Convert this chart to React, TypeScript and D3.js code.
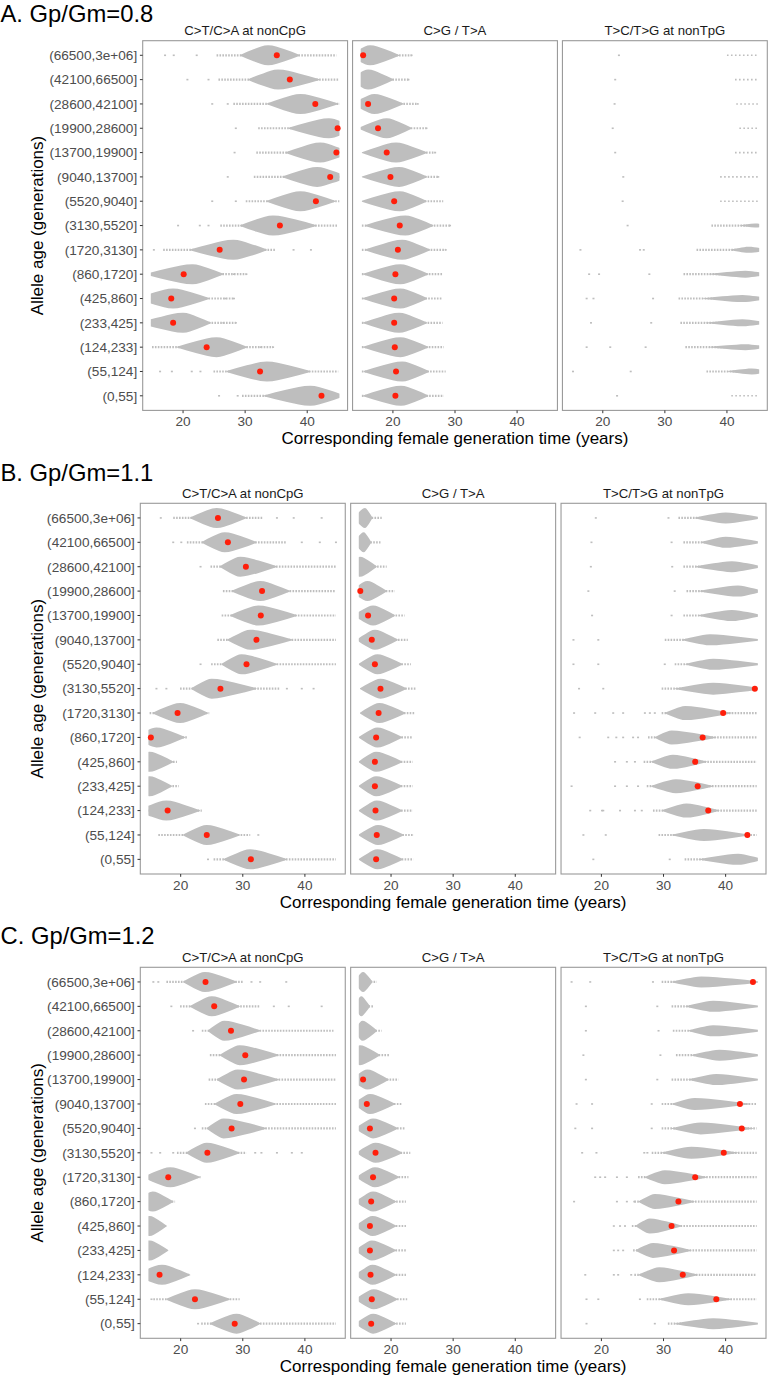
import React from "react";
import * as d3 from "d3";

// ---------------- DATA ----------------
const CATEGORIES = [
  "(66500,3e+06]", "(42100,66500]", "(28600,42100]", "(19900,28600]", "(13700,19900]",
  "(9040,13700]", "(5520,9040]", "(3130,5520]", "(1720,3130]", "(860,1720]",
  "(425,860]", "(233,425]", "(124,233]", "(55,124]", "(0,55]",
];
const FACETS = ["C>T/C>A at nonCpG", "C>G / T>A", "T>C/T>G at nonTpG"];
const PANEL_TITLES = ["A. Gp/Gm=0.8", "B. Gp/Gm=1.1", "C. Gp/Gm=1.2"];
const X_TICKS = [20, 30, 40];
const X_DOMAIN: [number, number] = [13.5, 46.5];
const DATA_RANGE: [number, number] = [15, 45];
const X_TITLE = "Corresponding female generation time (years)";
const Y_TITLE = "Allele age (generations)";

// cloud rows: [tail start, core start, mode, core end, tail end, relative density]
// red point estimates (null = outside the plotted range)
// isolated bootstrap values outside the main cloud

// ---- Panel A (Gp/Gm = 0.8)
const A1_EST = [35.1, 37.2, 41.3, 44.9, 44.7, 43.7, 41.4, 35.6, 25.9, 20.1, 18.1, 18.4, 23.8, 32.4, 42.3];
const A1_CLOUD = [
  [25.4, 29.2, 33.7, 38.8, 44.7, 1], [25.7, 30.5, 35.3, 42, 45, 1], [28.1, 33.5, 38.9, 45, 46, 1],
  [32.1, 37, 43.5, 48, 48, 1], [31.8, 36.5, 42.1, 47, 47, 1], [31.4, 36, 41.6, 46.5, 47, 1],
  [30.1, 33.5, 38.9, 44.5, 46, 1], [26, 29.2, 34.5, 41.5, 45, 1], [16.8, 21.1, 28.1, 33.5, 35, 1],
  [13, 14, 21.5, 26.5, 30.2, 1], [12, 12.5, 18.4, 24.2, 28.2, 1], [12, 13, 20, 24.5, 28.5, 1],
  [15, 19, 25.4, 30.3, 34.5, 1], [24.9, 27, 33.5, 40.5, 45, 1], [29.5, 33, 40.5, 46, 46, 1],
];
const A1_OUT = [
  [17.1, 18.5, 22.2], [20.7, 24.1], [24.7, 27.2], [28.5], [28.3], [27.2], [24.7, 28.5],
  [19.2, 22.7, 24.1], [15.3, 37.8, 40.6], [28.2, 30.2], [26.8, 28.2], [26.5, 28.5], [32.5, 34.5],
  [16.3, 18.2, 21.4, 22.8], [25.8, 28.8],
];
const A2_EST = [15.2, null, 16.0, 17.6, 19.0, 19.6, 20.2, 21.1, 20.8, 20.4, 20.2, 20.2, 20.3, 20.5, 20.4];
const A2_CLOUD = [
  [15, 13, 16.3, 21, 23, 1], [15, 13, 16, 20.1, 22.5, 1], [15, 13.5, 17, 21.7, 23.8, 1],
  [15, 14.5, 19, 23, 25.4, 1], [15, 15, 20.5, 25.5, 26.8, 1], [15, 15, 21, 25.5, 27.3, 1],
  [15, 15, 21.1, 25.4, 28.1, 1], [15, 15.5, 22, 26.5, 29.2, 1], [15, 15.5, 21.5, 26, 28.5, 1],
  [15, 15.2, 21.2, 25.7, 28, 1], [15, 15.2, 21.2, 25.5, 28, 1], [15, 15.2, 21, 25.5, 28, 1],
  [15, 15.2, 21.2, 25.7, 28.2, 1], [15, 15.3, 21.5, 25.8, 28.5, 1], [15, 15.2, 21.3, 25.7, 28.2, 1],
];
const A2_OUT = [[23], [22.5], [24], [25.4], [26.8], [27.3], [], [29.2], [28.5], [], [], [], [], [], []];
const A3_EST = [null, null, null, null, null, null, null, null, null, null, null, null, null, null, null];
const A3_CLOUD = [
  [40, 45, 45, 45, 45, 0], [41.3, 45, 45, 45, 45, 0], [41.5, 45, 45, 45, 45, 0],
  [42, 45, 45, 45, 45, 0], [41.3, 45, 45, 45, 45, 0], [38.9, 45, 45, 45, 45, 0],
  [38.9, 45, 45, 45, 45, 0], [37.5, 42, 44.5, 47, 45, 0.2], [35.1, 40.5, 43.5, 47, 45, 0.3],
  [33, 37, 43, 47, 45, 0.35], [32.2, 36, 42.5, 47, 45, 0.35], [32.5, 36.5, 42.5, 47, 45, 0.35],
  [33.3, 37, 43, 47, 45, 0.3], [36.7, 40, 44, 47, 45, 0.3], [40.7, 45, 45, 45, 45, 0],
];
const A3_OUT = [
  [22.6], [22.0], [21.9], [21.6], [22.0], [23.3], [23.2], [24.0], [16.4, 26, 26.6],
  [17.8, 19.4, 27.5], [17.4, 18.5, 28.1], [18.1, 27.8], [17.4, 21.2, 26.9], [15.2, 24.5], [22.3],
];

// ---- Panel B (Gp/Gm = 1.1)
const B1_EST = [26.0, 27.6, 30.5, 33.1, 32.9, 32.2, 30.6, 26.4, 19.5, 15.2, null, null, 17.9, 24.2, 31.3];
const B1_CLOUD = [
  [18.8, 21.5, 25.8, 30.6, 33.3, 1], [21, 23.4, 27.1, 32.2, 37.1, 1], [24.8, 26.3, 29.6, 35.5, 45, 1],
  [26.8, 28.2, 32.8, 37.6, 45, 1], [26.6, 28, 32.5, 38.7, 45, 1], [25.9, 27.5, 31.2, 38, 45, 1],
  [24.9, 26.6, 29.8, 35.5, 45, 1], [19.9, 21.7, 25, 32.2, 36, 1], [15, 15.5, 19.9, 24.4, 24.6, 1],
  [12, 12.5, 16.1, 20.7, 21, 1], [12, 12, 15, 18.8, 19.4, 1], [12, 12, 15, 18.6, 19.7, 1],
  [12, 13, 17.7, 23.1, 23.4, 1], [16.4, 20.4, 24.2, 29.5, 31.2, 1], [25.3, 26.9, 31.2, 37.1, 45, 1],
];
const B1_OUT = [
  [16.8, 35.5, 38.2, 42.7], [18.8, 20.1, 39.5, 42.4, 45], [23.2], [], [], [], [23.2],
  [16.1, 17.7, 37.1, 39.5, 41.4], [], [], [], [], [], [32.5], [24.4],
];
const B2_EST = [null, null, null, 15.05, 16.3, 16.9, 17.4, 18.3, 18.0, 17.6, 17.4, 17.4, 17.5, 17.7, 17.6];
const B2_CLOUD = [
  [15, 14, 15.8, 17, 18.5, 1], [15, 14, 15.6, 16.8, 18.3, 1], [15, 13, 15, 17.7, 19.3, 1],
  [15, 13.5, 16.2, 19.3, 20.6, 1], [15, 14, 17.1, 20.6, 22.2, 1], [15, 14.5, 17.4, 21.1, 22.7, 1],
  [15, 14.8, 17.8, 21.8, 23.2, 1], [15, 15, 18.3, 22.5, 24.1, 1], [15, 15, 18.1, 22.3, 23.8, 1],
  [15, 14.8, 17.8, 21.8, 23.5, 1], [15, 14.8, 17.6, 21.8, 23.5, 1], [15, 14.8, 17.6, 21.8, 23.5, 1],
  [15, 14.8, 17.7, 21.8, 23.5, 1], [15, 14.8, 17.9, 22, 23.7, 1], [15, 14.8, 17.8, 21.9, 23.6, 1],
];
const B2_OUT = [[], [], [], [], [], [], [], [], [], [], [], [], [], [], []];
const B3_EST = [null, null, null, null, null, null, null, 44.7, 39.6, 36.3, 35.1, 35.5, 37.2, 43.5, null];
const B3_CLOUD = [
  [32.4, 35, 40, 46, 45, 0.55], [33.2, 36, 40, 46, 45, 0.55], [33.2, 35.1, 41, 46, 45, 0.55],
  [33.7, 35.6, 42, 46, 45, 0.55], [33.2, 35.6, 41, 46, 45, 0.55], [30.2, 32.9, 37.5, 46, 45, 0.55],
  [31.8, 33.5, 38, 46, 45, 0.55], [29.7, 31.8, 38, 46, 45, 0.6], [29.7, 30.2, 33.5, 41, 45, 0.7],
  [27.5, 28.6, 31.3, 38.5, 45, 0.7], [26.8, 28, 31.5, 37, 45, 0.7], [27.3, 28, 32, 38, 45, 0.7],
  [28.3, 29.7, 33.7, 39, 45, 0.7], [29.2, 31.3, 36.5, 44, 45, 0.6], [33.4, 35.6, 42, 46, 45, 0.55],
];
const B3_OUT = [
  [19.1, 30.8], [18.4, 31.3], [18.3, 31.4], [17.9, 31.8], [18.5, 31.3], [15.5, 19.5], [15.5, 19.5, 30.2],
  [16.4, 20.3], [15.6, 19, 21.9, 23.5, 27, 27.8, 28.6], [16.5, 21.1, 22.4, 23.5, 25.1, 25.9],
  [22.2, 24.1, 25.4], [15.2, 22.2, 24.1, 25.9], [18.2, 20.1, 20.3, 23, 25.4, 26.5], [17.1, 20.7], [18.7, 31],
];

// ---- Panel C (Gp/Gm = 1.2)
const C1_EST = [24.0, 25.4, 28.1, 30.4, 30.2, 29.6, 28.2, 24.3, 18.0, null, null, null, 16.6, 22.3, 28.7];
const C1_CLOUD = [
  [17.7, 20.4, 23.9, 29, 30.1, 1], [19.9, 21.5, 25, 29.5, 32.8, 1], [23.4, 24.4, 27, 32.8, 44.6, 1],
  [24.7, 26.3, 29.5, 35.8, 45, 1], [24.5, 25.8, 29.2, 35.8, 45, 1], [23.9, 25.5, 29, 35.3, 45, 1],
  [23.4, 24.2, 26.9, 33.8, 45, 1], [19.4, 20.9, 24.2, 29.5, 30.6, 1], [13, 14, 18.3, 23.1, 23.2, 1],
  [12, 12.5, 15.5, 18.8, 19.1, 1], [12, 12, 15, 17.7, 17.8, 1], [12, 12, 15, 18, 18, 1],
  [12, 12.5, 17, 21.5, 21.6, 1], [15.6, 17.7, 22.3, 27.9, 29.5, 1], [23.3, 24.7, 29, 32.8, 45, 1],
];
const C1_OUT = [
  [15.6, 16.4, 31.4, 32.8, 37], [18.5, 35, 37.4, 42.7], [22], [], [], [], [22.3],
  [15.3, 16.7, 18.8, 32, 33, 35.5, 37.9, 39.5], [], [], [], [], [], [15.3], [22.8],
];
const C2_EST = [null, null, null, null, 15.5, 16.1, 16.6, 17.5, 17.1, 16.8, 16.6, 16.6, 16.7, 16.9, 16.8];
const C2_CLOUD = [
  [15, 14, 15.5, 17, 17.7, 1], [15, 14, 15.2, 16.6, 17.2, 1], [15, 14, 15.4, 17.7, 18.5, 1],
  [15, 13, 15, 18.2, 19.8, 1], [15, 13.5, 16.2, 19.6, 21.2, 1], [15, 14, 16.6, 20.6, 21.8, 1],
  [15, 14.3, 17.1, 21.1, 22.3, 1], [15, 14.5, 17.5, 21.8, 23.1, 1], [15, 14.5, 17.4, 21.3, 22.8, 1],
  [15, 14.3, 17.1, 20.8, 22.4, 1], [15, 14.3, 17, 20.8, 22.4, 1], [15, 14.3, 16.9, 20.8, 22.4, 1],
  [15, 14.3, 17, 20.8, 22.4, 1], [15, 14.3, 17.2, 21, 22.6, 1], [15, 14.3, 17.1, 20.8, 22.4, 1],
];
const C2_OUT = [[], [], [], [], [], [], [], [], [], [], [], [], [], [], []];
const C3_EST = [44.4, null, null, null, null, 42.3, 42.6, 39.7, 35.1, 32.4, 31.3, 31.7, 33.1, 38.5, null];
const C3_CLOUD = [
  [29.7, 31.3, 36.1, 46, 45, 0.55], [31.3, 33.5, 38, 46, 45, 0.55], [31.5, 34, 38, 46, 45, 0.55],
  [32, 34.5, 39, 46, 45, 0.55], [31.3, 34, 38.5, 46, 45, 0.55], [29.7, 31.3, 35, 44, 45, 0.6],
  [29.7, 31.3, 36, 44.5, 45, 0.6], [28.1, 29.7, 34.5, 42, 45, 0.6], [25.9, 27, 30.2, 37, 45, 0.7],
  [25.3, 26, 28.6, 35, 45, 0.75], [24.9, 25.5, 27.8, 33, 45, 0.75], [25.1, 25.5, 28.3, 34.5, 45, 0.75],
  [25.3, 26, 29.3, 35.5, 45, 0.75], [27.3, 29.2, 34, 41, 45, 0.6], [30.7, 31.8, 38, 46, 45, 0.55],
];
const C3_OUT = [
  [15.2, 18.2, 28.3], [17.5, 29], [17.5, 29.2], [17.1, 29.5], [17.5, 29], [16, 18.5, 28.1],
  [15.8, 18.5, 28.1], [16.9, 19.2, 26.9, 27.4], [19, 19.8, 20.6, 22.5, 24.1], [15.6, 22.5, 24.1, 25.3],
  [22, 23, 23.8], [22, 22.7, 23.5], [17.4, 22, 22.7, 24.8], [17.6, 19.5, 26.2], [17.6, 28.6],
];

const PANELS = [
  { title: PANEL_TITLES[0], facets: [
    { est: A1_EST, cloud: A1_CLOUD, out: A1_OUT }, { est: A2_EST, cloud: A2_CLOUD, out: A2_OUT }, { est: A3_EST, cloud: A3_CLOUD, out: A3_OUT } ] },
  { title: PANEL_TITLES[1], facets: [
    { est: B1_EST, cloud: B1_CLOUD, out: B1_OUT }, { est: B2_EST, cloud: B2_CLOUD, out: B2_OUT }, { est: B3_EST, cloud: B3_CLOUD, out: B3_OUT } ] },
  { title: PANEL_TITLES[2], facets: [
    { est: C1_EST, cloud: C1_CLOUD, out: C1_OUT }, { est: C2_EST, cloud: C2_CLOUD, out: C2_OUT }, { est: C3_EST, cloud: C3_CLOUD, out: C3_OUT } ] },
];

// ---------------- LAYOUT / STYLE ----------------
const W = 769;
const H = 1375;
const FONT = "'Liberation Sans', Arial, Helvetica, sans-serif";
const LAYOUT = [
  { left: 142.7, right: 767.3, top: 40.7, bottom: 410.4, titleY: 21.5, gap: 5.0 },
  { left: 140.3, right: 766.0, top: 503.3, bottom: 874.0, titleY: 481, gap: 5.4 },
  { left: 140.3, right: 766.0, top: 967.3, bottom: 1338.3, titleY: 944, gap: 5.4 },
];
const CLOUD_COLOR = "#bebebe";
const RED = "#ff1e0a";
const MAX_HALF = 10;

const area = d3.area<[number, number]>().curve(d3.curveMonotoneX);

function FacetView({ pi, fi, facet, fx, fw, top, bottom }: any) {
  const x = d3.scaleLinear().domain(X_DOMAIN).range([fx, fx + fw]);
  const y = d3.scalePoint<string>().domain(CATEGORIES).range([top, bottom]).padding(0.6);
  const clipId = `clip-${pi}-${fi}`;
  const cx0 = x(DATA_RANGE[0]) - 1.2;
  const cx1 = x(DATA_RANGE[1]) + 1.2;
  return (
    <g>
      <defs>
        <clipPath id={clipId}>
          <rect x={cx0} y={top} width={cx1 - cx0} height={bottom - top} />
        </clipPath>
      </defs>
      <g clipPath={`url(#${clipId})`}>
        {CATEGORIES.map((cat, i) => {
          const yc = y(cat) as number;
          const [lo, c0, m, c1, hi, dens] = facet.cloud[i];
          const half = MAX_HALF * dens;
          const pts: [number, number][] = [
            [c0, 0.04], [c0 + (m - c0) * 0.5, 0.62], [m, 1], [m + (c1 - m) * 0.5, 0.62], [c1, 0.04],
          ];
          const gen = area
            .x((d) => x(d[0]))
            .y0((d) => yc - d[1] * half)
            .y1((d) => yc + d[1] * half);
          const pathD = dens > 0 && c1 > c0 ? gen(pts) : null;
          const tails: [number, number][] = [];
          if (dens === 0) tails.push([lo, hi]);
          else {
            if (lo < c0) tails.push([lo, (c0 + m) / 2]);
            if (hi > c1) tails.push([(m + c1) / 2, hi]);
          }
          return (
            <g key={cat}>
              {tails.map((t, k) => (
                <line key={k} x1={x(t[0])} x2={x(t[1])} y1={yc} y2={yc}
                  stroke={CLOUD_COLOR} strokeWidth={dens === 0 ? 1.6 : 2.2}
                  strokeDasharray={dens === 0 ? "1.6 2.4" : "1.6 1.3"} />
              ))}
              {pathD && <path d={pathD} fill={CLOUD_COLOR} />}
              {facet.out[i].map((v: number, k: number) => (
                <rect key={"o" + k} x={x(v) - 1} y={yc - 0.8} width={2} height={1.6} fill={CLOUD_COLOR} />
              ))}
            </g>
          );
        })}
      </g>
      {CATEGORIES.map((cat, i) => {
        const v = facet.est[i];
        if (v == null) return null;
        return <circle key={"e" + cat} cx={x(v)} cy={y(cat) as number} r={3} fill={RED} />;
      })}
      <rect x={fx} y={top} width={fw} height={bottom - top} fill="none" stroke="#9a9a9a" strokeWidth={1.1} />
      <text x={fx + fw / 2} y={top - 5.5} textAnchor="middle" fontSize={13.2} fill="#1a1a1a">
        {FACETS[fi]}
      </text>
      {X_TICKS.map((t) => (
        <g key={t}>
          <line x1={x(t)} x2={x(t)} y1={bottom} y2={bottom + 2.8} stroke="#333" strokeWidth={1} />
          <text x={x(t)} y={bottom + 15.5} textAnchor="middle" fontSize={13.6} fill="#4d4d4d">{t}</text>
        </g>
      ))}
      {fi === 0 && CATEGORIES.map((cat) => (
        <g key={"yt" + cat}>
          <line x1={fx - 2.8} x2={fx} y1={y(cat) as number} y2={y(cat) as number} stroke="#333" strokeWidth={1} />
          <text x={fx - 5.5} y={(y(cat) as number) + 4.8} textAnchor="end" fontSize={13.6} fill="#4d4d4d">{cat}</text>
        </g>
      ))}
    </g>
  );
}

export default function App() {
  return (
    <svg width={W} height={H} style={{ position: "absolute", left: 0, top: 0, background: "#fff" }}
      fontFamily={FONT}>
      <rect x={0} y={0} width={W} height={H} fill="#fff" />
      {PANELS.map((p, pi) => {
        const L = LAYOUT[pi];
        const fw = (L.right - L.left - 2 * L.gap) / 3;
        const midY = (L.top + L.bottom) / 2;
        return (
          <g key={pi}>
            <text x={0.5} y={L.titleY} fontSize={23.8} fill="#000">{p.title}</text>
            {p.facets.map((f, fi) => (
              <FacetView key={fi} pi={pi} fi={fi} facet={f} fx={L.left + fi * (fw + L.gap)} fw={fw}
                top={L.top} bottom={L.bottom} />
            ))}
            <text x={(L.left + L.right) / 2} y={L.bottom + 34} textAnchor="middle" fontSize={17} fill="#000">
              {X_TITLE}
            </text>
            <text transform={`translate(${43},${midY}) rotate(-90)`} textAnchor="middle" fontSize={17} fill="#000">
              {Y_TITLE}
            </text>
          </g>
        );
      })}
    </svg>
  );
}
